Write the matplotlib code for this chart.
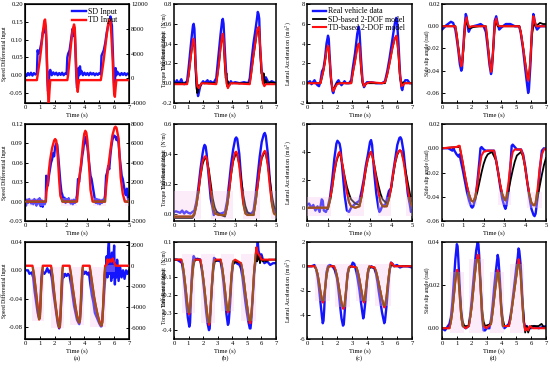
import numpy as np
import matplotlib
matplotlib.use("Agg")
import matplotlib.pyplot as plt
from matplotlib.patches import Rectangle

plt.rcParams['font.family'] = ['Liberation Serif', 'DejaVu Serif']
plt.rcParams['mathtext.fontset'] = 'stix'
plt.rcParams['axes.unicode_minus'] = False

BLUE = '#1414ff'
RED = '#ff1010'
BLACK = '#000000'
BROWN = '#94561f'
PINK = '#f6c2ea'

# ---------------- Row 1 (7 s) ----------------
r1c1_sd = [(0,0.005),(0.1,-0.002),(0.2,0.006),(0.3,0.0),(0.4,0.007),(0.5,-0.001),(0.6,0.006),(0.7,0.002),(0.8,0.004),
           (0.85,0.07),(0.9,0.06),(1.0,0.07),(1.1,0.09),(1.2,0.12),(1.3,0.135),(1.35,0.12),(1.4,0.13),(1.45,0.08),
           (1.5,-0.01),(1.55,-0.045),(1.6,-0.02),(1.65,0.01),(1.7,0.015),(1.8,0.0),(1.9,0.008),(2.0,0.002),(2.1,0.007),
           (2.2,0.0),(2.3,0.006),(2.4,0.001),(2.5,0.007),(2.6,0.0),(2.7,0.005),(2.8,0.003),(2.85,0.05),(2.9,0.06),
           (3.0,0.07),(3.1,0.10),(3.2,0.13),(3.25,0.11),(3.3,0.13),(3.35,0.12),(3.4,0.06),(3.45,0.0),(3.5,-0.035),
           (3.55,-0.02),(3.6,0.02),(3.65,0.0),(3.7,0.025),(3.75,0.005),(3.8,0.012),(3.9,0.0),(4.0,0.007),(4.1,0.001),
           (4.2,0.006),(4.3,0.0),(4.4,0.007),(4.5,0.002),(4.6,0.006),(4.7,0.0),(4.8,0.005),(4.9,0.001),(5.0,0.006),
           (5.1,0.002),(5.15,0.055),(5.2,0.06),(5.3,0.07),(5.4,0.09),(5.5,0.12),(5.6,0.14),(5.7,0.15),(5.75,0.165),
           (5.8,0.15),(5.85,0.14),(5.9,0.08),(5.95,0.02),(6.0,-0.035),(6.05,-0.02),(6.1,0.02),(6.15,0.0),(6.2,0.01),
           (6.3,0.005),(6.4,0.0),(6.5,0.006),(6.6,0.001),(6.7,0.006),(6.8,0.0),(6.9,0.005),(7.0,0.002)]
r1c1_td = [(0,-300),(0.8,-300),(0.85,500),(1.0,3000),(1.1,5000),(1.2,7500),(1.3,9300),(1.35,9500),(1.4,8500),
           (1.45,5500),(1.5,1000),(1.55,-2500),(1.6,-4000),(1.65,-2000),(1.7,-300),(2.85,-300),(2.9,500),(3.0,3000),
           (3.1,5500),(3.2,7800),(3.3,8700),(3.35,8200),(3.4,5000),(3.45,1500),(3.5,-1000),(3.55,-2200),(3.6,-1000),
           (3.65,-300),(5.1,-300),(5.15,400),(5.3,3000),(5.45,6000),(5.6,8800),(5.7,9500),(5.75,9300),(5.8,7500),
           (5.9,3000),(5.95,0),(6.0,-2500),(6.05,-3000),(6.1,-1500),(6.15,-300),(7,-300)]

r1c2_real = [(0,0.02),(0.1,0.0),(0.2,0.03),(0.3,0.0),(0.4,0.01),(0.5,0.04),(0.6,0.0),(0.7,-0.01),(0.8,0.01),(0.9,0.02),
             (1.0,0.15),(1.1,0.3),(1.2,0.45),(1.3,0.58),(1.35,0.6),(1.4,0.55),(1.45,0.35),(1.5,0.12),(1.55,0.0),
             (1.6,-0.08),(1.65,-0.13),(1.7,-0.1),(1.8,-0.03),(1.9,0.0),(2.0,0.02),(2.1,0.0),(2.3,0.03),(2.4,0.0),
             (2.5,0.02),(2.7,0.0),(2.9,0.05),(3.0,0.2),(3.1,0.35),(3.2,0.5),(3.3,0.63),(3.35,0.65),(3.4,0.6),(3.5,0.3),
             (3.6,0.05),(3.7,-0.03),(3.8,-0.01),(3.9,0.02),(4.0,0.0),(4.2,0.01),(4.5,0.0),(4.8,0.01),(5.1,0.0),
             (5.2,0.05),(5.3,0.2),(5.45,0.4),(5.6,0.55),(5.7,0.66),(5.75,0.72),(5.8,0.7),(5.85,0.65),(5.9,0.4),
             (6.0,0.15),(6.1,0.03),(6.2,0.0),(6.3,0.06),(6.4,0.03),(6.5,0.0),(6.7,0.02),(7,0.0)]
r1c2_sd = [(0,0.0),(0.5,0.0),(0.9,0.0),(1.0,0.07),(1.1,0.2),(1.2,0.32),(1.3,0.42),(1.35,0.44),(1.4,0.38),(1.5,0.1),
           (1.55,-0.05),(1.6,-0.1),(1.65,-0.08),(1.7,-0.02),(1.8,-0.03),(1.9,0.0),(2.9,0.0),(3.0,0.1),(3.1,0.22),
           (3.2,0.36),(3.3,0.47),(3.35,0.48),(3.4,0.42),(3.5,0.15),(3.55,0.05),(3.6,0.1),(3.65,-0.03),(3.7,0.02),
           (3.8,-0.02),(3.9,0.0),(5.2,0.0),(5.3,0.1),(5.45,0.27),(5.6,0.42),(5.7,0.52),(5.8,0.55),(5.85,0.52),
           (5.9,0.35),(6.0,0.1),(6.05,0.08),(6.1,0.02),(6.15,0.1),(6.2,0.0),(6.3,0.03),(6.4,-0.01),(6.6,0.01),(7,0.0)]
r1c2_td = [(0,-0.01),(0.9,-0.01),(1.0,0.08),(1.1,0.2),(1.2,0.33),(1.3,0.43),(1.35,0.45),(1.4,0.4),(1.5,0.15),
           (1.6,-0.03),(1.7,-0.05),(1.8,-0.02),(1.9,0.0),(2.9,-0.01),(3.0,0.1),(3.1,0.22),(3.2,0.37),(3.3,0.48),
           (3.35,0.5),(3.4,0.45),(3.5,0.2),(3.6,0.0),(3.7,-0.05),(3.8,-0.02),(3.9,0.0),(5.2,-0.01),(5.3,0.1),
           (5.45,0.28),(5.6,0.43),(5.7,0.53),(5.8,0.57),(5.85,0.55),(5.9,0.4),(6.0,0.15),(6.1,0.0),(6.2,-0.03),
           (6.3,-0.01),(7,-0.01)]

r1c3_real = [(0,0.0),(0.2,0.2),(0.3,-0.1),(0.5,0.3),(0.6,0.0),(0.7,-0.2),(0.8,-0.3),(0.9,0.2),(1.0,1.2),(1.1,1.5),
             (1.2,2.5),(1.3,4.0),(1.4,4.8),(1.45,4.5),(1.5,3.0),(1.6,0.5),(1.7,-0.8),(1.75,-1.0),(1.8,-0.7),(1.9,-0.2),
             (2.0,0.1),(2.1,0.3),(2.2,0.0),(2.3,-0.2),(2.5,0.2),(2.6,0.0),(2.8,0.0),(2.95,0.3),(3.05,1.5),(3.2,3.0),
             (3.35,5.0),(3.45,5.7),(3.5,5.2),(3.6,2.5),(3.7,0.3),(3.8,-0.4),(3.9,-0.1),(4.0,0.1),(4.3,0.1),(4.6,0.0),
             (5.0,0.0),(5.2,0.2),(5.35,1.2),(5.5,2.5),(5.7,4.5),(5.85,6.0),(5.95,6.6),(6.0,6.3),(6.1,4.0),(6.2,1.0),
             (6.3,-0.5),(6.35,-0.7),(6.45,0.0),(6.55,0.3),(6.7,0.3),(6.85,0.0),(7,0.0)]
r1c3_sd = [(0,0.0),(0.9,0.0),(1.0,0.6),(1.1,1.3),(1.2,2.2),(1.3,3.3),(1.4,3.8),(1.45,3.5),(1.5,2.3),(1.6,0.3),
           (1.7,-0.5),(1.75,-0.7),(1.85,-0.4),(2.0,0.0),(2.95,0.0),(3.05,1.0),(3.2,2.2),(3.35,3.7),(3.45,4.0),
           (3.5,3.6),(3.6,1.5),(3.7,0.0),(3.8,-0.3),(3.9,-0.1),(4.0,0.0),(5.2,0.0),(5.35,0.9),(5.5,2.0),(5.7,3.6),
           (5.85,4.5),(5.95,4.7),(6.0,4.5),(6.1,2.8),(6.2,0.6),(6.3,-0.2),(6.4,0.1),(6.5,0.0),(7,0.0)]
r1c3_td = [(0,0.0),(0.9,0.0),(1.0,0.7),(1.1,1.3),(1.2,2.2),(1.3,3.3),(1.4,3.8),(1.45,3.6),(1.5,2.5),(1.6,0.5),
           (1.7,-0.6),(1.75,-0.8),(1.85,-0.5),(2.0,-0.1),(2.2,0.0),(2.95,0.0),(3.05,1.0),(3.2,2.2),(3.35,3.6),
           (3.45,4.0),(3.5,3.7),(3.6,1.8),(3.7,0.2),(3.8,-0.3),(3.9,-0.1),(4.0,0.0),(4.2,0.1),(5.0,0.0),(5.2,0.1),
           (5.35,0.9),(5.5,2.0),(5.7,3.6),(5.85,4.5),(5.95,4.8),(6.0,4.6),(6.1,3.0),(6.2,0.8),(6.3,-0.3),(6.4,-0.2),
           (6.5,0.0),(7,0.0)]

r1c4_real = [(0,-0.003),(0.3,0.001),(0.6,0.004),(0.75,0.003),(0.9,-0.003),(1.0,-0.012),(1.1,-0.022),(1.2,-0.034),
             (1.3,-0.04),(1.35,-0.038),(1.4,-0.025),(1.5,-0.005),(1.6,0.011),(1.65,0.009),(1.75,-0.002),(1.8,-0.005),
             (1.9,-0.002),(2.1,0.0),(2.4,0.001),(2.6,0.002),(2.8,0.0),(2.95,-0.005),(3.05,-0.016),(3.2,-0.035),
             (3.3,-0.043),(3.35,-0.04),(3.45,-0.02),(3.55,0.005),(3.65,0.009),(3.75,0.002),(3.85,-0.003),(4.0,-0.001),
             (4.3,0.002),(4.6,0.002),(4.9,0.0),(5.2,0.0),(5.3,-0.006),(5.45,-0.02),(5.6,-0.038),(5.75,-0.055),
             (5.8,-0.06),(5.85,-0.057),(5.95,-0.035),(6.05,-0.005),(6.15,0.011),(6.2,0.008),(6.3,0.0),(6.4,-0.003),
             (6.6,0.0),(7,0.0)]
r1c4_sd = [(0,0.0),(0.9,0.0),(1.0,-0.008),(1.1,-0.019),(1.2,-0.029),(1.3,-0.035),(1.35,-0.034),(1.45,-0.02),
           (1.55,0.0),(1.65,0.005),(1.75,0.0),(1.85,-0.002),(2.0,-0.001),(2.5,0.0),(2.95,0.0),(3.05,-0.012),
           (3.2,-0.031),(3.3,-0.04),(3.35,-0.038),(3.45,-0.02),(3.55,0.0),(3.65,0.004),(3.75,0.0),(3.9,0.0),
           (5.2,0.0),(5.3,-0.005),(5.45,-0.018),(5.6,-0.032),(5.75,-0.046),(5.8,-0.048),(5.85,-0.046),(5.95,-0.03),
           (6.05,-0.008),(6.15,0.0),(6.25,0.002),(6.4,0.001),(6.6,0.003),(6.8,0.002),(7,0.002)]
r1c4_td = [(0,0.0),(0.9,0.0),(1.0,-0.009),(1.1,-0.02),(1.2,-0.03),(1.3,-0.036),(1.35,-0.034),(1.45,-0.018),
           (1.55,0.003),(1.65,0.008),(1.75,0.002),(1.85,-0.001),(2.0,0.0),(2.95,0.0),(3.05,-0.012),(3.2,-0.032),
           (3.3,-0.041),(3.35,-0.039),(3.45,-0.02),(3.55,0.003),(3.65,0.007),(3.75,0.001),(3.9,0.0),(5.2,0.0),
           (5.3,-0.005),(5.45,-0.018),(5.6,-0.033),(5.75,-0.047),(5.8,-0.049),(5.85,-0.047),(5.95,-0.03),
           (6.05,-0.005),(6.15,0.009),(6.25,0.004),(6.35,0.0),(7,0.0)]

# ---------------- Row 2 (5 s) ----------------
r2c1_sd = [(0,0.0),(0.05,-0.006),(0.1,0.003),(0.15,-0.002),(0.2,0.004),(0.3,-0.003),(0.35,0.002),(0.4,-0.004),
           (0.45,0.004),(0.5,0.0),(0.55,-0.006),(0.6,0.003),(0.65,-0.003),(0.7,0.005),(0.75,-0.007),(0.8,0.002),
           (0.85,-0.008),(0.9,0.0),(0.95,-0.004),(1.0,0.002),(1.02,0.04),(1.05,0.035),(1.1,0.025),(1.15,0.04),
           (1.2,0.05),(1.25,0.06),(1.3,0.065),(1.35,0.075),(1.4,0.07),(1.45,0.085),(1.5,0.09),(1.55,0.088),(1.6,0.07),
           (1.65,0.05),(1.7,0.03),(1.75,0.015),(1.8,0.01),(1.85,0.0),(1.9,0.006),(1.95,-0.002),(2.0,0.004),(2.05,0.0),
           (2.1,0.005),(2.2,-0.003),(2.25,0.002),(2.3,-0.004),(2.35,0.003),(2.4,-0.002),(2.45,0.002),(2.5,0.01),
           (2.55,0.035),(2.6,0.03),(2.65,0.045),(2.7,0.055),(2.75,0.07),(2.8,0.08),(2.85,0.095),(2.9,0.1),(2.95,0.09),
           (3.0,0.085),(3.05,0.07),(3.1,0.055),(3.15,0.04),(3.2,0.035),(3.25,0.025),(3.3,0.015),(3.35,0.005),
           (3.4,-0.002),(3.45,0.004),(3.5,-0.003),(3.55,0.003),(3.6,-0.004),(3.65,0.002),(3.7,-0.002),(3.75,0.003),
           (3.8,0.0),(3.85,0.01),(3.9,0.04),(3.95,0.045),(4.0,0.055),(4.05,0.05),(4.1,0.07),(4.15,0.085),(4.2,0.095),
           (4.25,0.1),(4.3,0.102),(4.35,0.1),(4.4,0.095),(4.45,0.1),(4.5,0.09),(4.55,0.07),(4.6,0.055),(4.65,0.04),
           (4.7,0.035),(4.75,0.025),(4.8,0.015),(4.85,0.01),(4.9,0.02),(4.95,0.005),(5.0,0.0)]
r2c1_td = [(0,0),(1.0,0),(1.03,1000),(1.1,2000),(1.15,3200),(1.2,4200),(1.3,5500),(1.4,6300),(1.45,6450),(1.5,6300),
           (1.55,5500),(1.6,3800),(1.65,2000),(1.7,600),(1.8,0),(2.5,0),(2.55,1200),(2.6,2200),(2.7,4000),(2.8,6200),
           (2.85,7000),(2.9,7300),(2.95,7100),(3.0,6300),(3.05,4800),(3.1,3000),(3.15,1200),(3.25,0),(3.85,0),
           (3.9,1500),(4.0,3500),(4.1,5200),(4.2,6800),(4.3,7600),(4.35,7730),(4.4,7600),(4.5,6500),(4.55,4500),
           (4.6,2500),(4.7,800),(4.8,0),(5.0,0)]

r2c2_real = [(0,0.01),(0.1,0.015),(0.2,0.01),(0.3,0.005),(0.4,0.02),(0.5,0.0),(0.6,0.015),(0.7,0.005),(0.8,0.0),
             (0.9,0.01),(1.0,0.02),(1.1,0.08),(1.2,0.18),(1.3,0.3),(1.4,0.4),(1.45,0.44),(1.5,0.46),(1.55,0.45),
             (1.6,0.4),(1.7,0.25),(1.8,0.1),(1.9,0.03),(1.95,-0.01),(2.0,0.0),(2.1,0.01),(2.2,0.0),(2.3,0.0),
             (2.5,0.01),(2.6,0.08),(2.7,0.2),(2.8,0.33),(2.9,0.43),(3.0,0.5),(3.05,0.51),(3.1,0.5),(3.2,0.4),
             (3.3,0.22),(3.4,0.08),(3.5,0.02),(3.6,0.0),(3.8,0.0),(3.9,0.02),(4.0,0.12),(4.1,0.25),(4.2,0.38),
             (4.3,0.48),(4.4,0.53),(4.45,0.54),(4.5,0.52),(4.6,0.4),(4.7,0.22),(4.8,0.08),(4.9,0.02),(5.0,0.0)]
r2c2_sd = [(0,-0.03),(0.9,-0.03),(1.0,-0.01),(1.1,0.05),(1.2,0.14),(1.3,0.25),(1.4,0.33),(1.5,0.37),(1.55,0.375),
           (1.6,0.36),(1.7,0.3),(1.8,0.2),(1.9,0.1),(2.0,0.04),(2.1,0.01),(2.3,-0.01),(2.5,-0.02),(2.6,0.04),
           (2.7,0.14),(2.8,0.26),(2.9,0.35),(3.0,0.39),(3.05,0.4),(3.1,0.39),(3.2,0.33),(3.3,0.22),(3.4,0.12),
           (3.5,0.05),(3.6,0.01),(3.8,-0.01),(3.9,-0.01),(4.0,0.07),(4.1,0.18),(4.2,0.29),(4.3,0.37),(4.4,0.4),
           (4.45,0.41),(4.5,0.4),(4.6,0.33),(4.7,0.22),(4.8,0.12),(4.9,0.05),(5.0,0.02)]
r2c2_td = [(0,-0.02),(0.9,-0.02),(1.0,0.0),(1.1,0.06),(1.2,0.15),(1.3,0.26),(1.4,0.35),(1.5,0.38),(1.55,0.385),
           (1.6,0.37),(1.7,0.28),(1.8,0.15),(1.9,0.05),(2.0,0.0),(2.2,-0.01),(2.5,-0.01),(2.6,0.05),(2.7,0.15),
           (2.8,0.27),(2.9,0.36),(3.0,0.41),(3.05,0.415),(3.1,0.4),(3.2,0.32),(3.3,0.18),(3.4,0.06),(3.5,0.0),
           (3.6,-0.01),(3.9,-0.01),(4.0,0.08),(4.1,0.19),(4.2,0.3),(4.3,0.38),(4.4,0.41),(4.45,0.42),(4.5,0.41),
           (4.6,0.32),(4.7,0.18),(4.8,0.06),(4.9,0.0),(5.0,-0.01)]

r2c3_real = [(0,0.2),(0.1,0.3),(0.2,0.0),(0.3,0.2),(0.4,-0.2),(0.5,0.1),(0.6,-0.3),(0.7,0.6),(0.75,0.5),(0.8,-0.2),
             (0.9,-0.3),(1.0,0.1),(1.1,0.8),(1.2,2.0),(1.3,3.5),(1.4,4.6),(1.45,4.8),(1.5,4.7),(1.55,4.6),(1.6,4.2),
             (1.7,2.5),(1.8,0.8),(1.9,-0.2),(2.0,-0.3),(2.1,0.0),(2.3,0.3),(2.5,0.5),(2.6,1.2),(2.7,2.0),(2.8,3.0),
             (2.9,3.8),(3.0,4.7),(3.05,4.85),(3.1,4.5),(3.15,3.5),(3.2,2.5),(3.3,1.0),(3.4,0.0),(3.45,-0.3),
             (3.5,-0.2),(3.6,0.2),(3.7,0.1),(3.8,0.6),(3.9,1.2),(4.0,1.4),(4.1,2.5),(4.2,3.5),(4.3,4.5),(4.4,5.0),
             (4.45,5.05),(4.5,4.9),(4.6,4.0),(4.7,2.5),(4.8,1.0),(4.9,0.2),(4.95,-0.3),(5.0,-0.2)]
r2c3_sd = [(0,0.0),(0.9,0.0),(1.0,-0.1),(1.1,0.5),(1.2,1.4),(1.3,2.5),(1.4,3.3),(1.5,3.8),(1.55,3.9),(1.6,3.7),
           (1.7,3.0),(1.8,2.2),(1.9,1.5),(2.0,1.0),(2.1,0.6),(2.3,0.3),(2.5,0.2),(2.6,0.8),(2.7,1.7),(2.8,2.7),
           (2.9,3.5),(3.0,3.9),(3.05,4.0),(3.1,3.8),(3.2,3.1),(3.3,2.3),(3.4,1.6),(3.5,1.0),(3.6,0.6),(3.8,0.3),
           (3.9,0.6),(4.0,1.3),(4.1,2.3),(4.2,3.2),(4.3,3.8),(4.4,4.1),(4.45,4.1),(4.5,4.0),(4.6,3.4),(4.7,2.6),
           (4.8,1.8),(4.9,1.0),(5.0,0.4)]
r2c3_td = [(0,0.0),(0.9,0.0),(1.0,0.0),(1.1,0.6),(1.2,1.5),(1.3,2.6),(1.4,3.4),(1.5,3.9),(1.55,4.0),(1.6,3.8),
           (1.7,3.0),(1.8,2.0),(1.9,1.1),(2.0,0.4),(2.1,0.1),(2.3,0.0),(2.5,0.1),(2.6,0.8),(2.7,1.8),(2.8,2.8),
           (2.9,3.5),(3.0,3.9),(3.05,4.0),(3.1,3.8),(3.2,3.0),(3.3,2.0),(3.4,1.1),(3.5,0.4),(3.6,0.1),(3.8,0.1),
           (3.9,0.6),(4.0,1.4),(4.1,2.4),(4.2,3.3),(4.3,3.9),(4.4,4.1),(4.45,4.1),(4.5,4.0),(4.6,3.3),(4.7,2.3),
           (4.8,1.3),(4.9,0.5),(5.0,0.1)]

r2c4_real = [(0,0.0),(0.3,0.0),(0.4,-0.001),(0.5,-0.002),(0.55,0.0),(0.6,-0.002),(0.7,-0.005),(0.8,-0.007),
             (0.85,-0.005),(0.9,-0.01),(1.0,-0.018),(1.1,-0.027),(1.2,-0.036),(1.3,-0.043),(1.4,-0.048),(1.45,-0.049),
             (1.5,-0.048),(1.6,-0.042),(1.7,-0.028),(1.8,-0.01),(1.85,0.0),(1.9,0.001),(2.0,-0.001),(2.1,-0.002),
             (2.5,-0.002),(2.6,-0.01),(2.7,-0.02),(2.8,-0.032),(2.9,-0.042),(3.0,-0.048),(3.05,-0.05),(3.1,-0.047),
             (3.2,-0.035),(3.3,-0.012),(3.35,0.002),(3.4,0.003),(3.5,0.001),(3.6,-0.001),(3.8,-0.001),(3.9,-0.005),
             (4.0,-0.015),(4.1,-0.028),(4.2,-0.04),(4.3,-0.05),(4.4,-0.055),(4.45,-0.056),(4.5,-0.054),(4.6,-0.04),
             (4.7,-0.018),(4.8,-0.002),(4.9,0.0),(5.0,-0.001)]
r2c4_sd = [(0,0.0),(0.7,0.001),(0.85,0.001),(0.9,-0.003),(1.0,-0.012),(1.1,-0.022),(1.2,-0.031),(1.3,-0.038),
           (1.4,-0.043),(1.5,-0.044),(1.6,-0.042),(1.7,-0.036),(1.8,-0.028),(1.9,-0.02),(2.0,-0.013),(2.1,-0.008),
           (2.2,-0.005),(2.4,-0.003),(2.6,-0.01),(2.7,-0.02),(2.8,-0.03),(2.9,-0.038),(3.0,-0.042),(3.05,-0.043),
           (3.1,-0.041),(3.2,-0.035),(3.3,-0.026),(3.4,-0.018),(3.5,-0.011),(3.6,-0.006),(3.8,-0.003),(3.9,-0.007),
           (4.0,-0.016),(4.1,-0.028),(4.2,-0.038),(4.3,-0.045),(4.4,-0.047),(4.45,-0.047),(4.5,-0.046),(4.6,-0.04),
           (4.7,-0.031),(4.8,-0.022),(4.9,-0.014),(5.0,-0.008)]
r2c4_td = [(0,0.0),(0.7,0.001),(0.8,0.002),(0.85,0.002),(0.9,-0.003),(1.0,-0.012),(1.1,-0.022),(1.2,-0.031),
           (1.3,-0.038),(1.4,-0.043),(1.5,-0.044),(1.6,-0.04),(1.7,-0.03),(1.8,-0.016),(1.9,-0.006),(2.0,-0.003),
           (2.2,-0.002),(2.5,-0.002),(2.6,-0.01),(2.7,-0.02),(2.8,-0.03),(2.9,-0.038),(3.0,-0.042),(3.05,-0.043),
           (3.1,-0.04),(3.2,-0.028),(3.3,-0.012),(3.4,-0.003),(3.5,-0.001),(3.8,-0.001),(3.9,-0.006),(4.0,-0.016),
           (4.1,-0.028),(4.2,-0.038),(4.3,-0.045),(4.4,-0.047),(4.45,-0.047),(4.5,-0.045),(4.6,-0.033),(4.7,-0.016),
           (4.8,-0.005),(4.9,-0.001),(5.0,0.0)]

# ---------------- Row 3 (7 s) ----------------
r3c1_sd = [(0,0.0),(0.2,0.0),(0.3,-0.005),(0.45,-0.003),(0.55,-0.01),(0.65,-0.03),(0.75,-0.045),(0.85,-0.06),
           (0.95,-0.068),(1.0,-0.065),(1.05,-0.04),(1.1,-0.01),(1.15,0.0),(1.3,-0.005),(1.4,-0.002),(1.5,0.003),
           (1.6,-0.003),(1.7,0.0),(1.8,-0.01),(1.9,-0.03),(2.0,-0.045),(2.1,-0.06),(2.2,-0.075),(2.3,-0.082),
           (2.35,-0.078),(2.45,-0.04),(2.5,-0.02),(2.55,-0.005),(2.6,-0.01),(2.7,-0.005),(2.8,-0.008),(2.9,-0.005),
           (3.0,-0.008),(3.1,-0.02),(3.2,-0.035),(3.3,-0.05),(3.4,-0.06),(3.5,-0.07),(3.6,-0.074),(3.65,-0.076),
           (3.7,-0.07),(3.8,-0.04),(3.85,-0.01),(3.9,0.0),(4.0,-0.005),(4.1,-0.002),(4.2,-0.006),(4.3,-0.003),
           (4.4,-0.02),(4.5,-0.035),(4.6,-0.045),(4.7,-0.06),(4.8,-0.065),(4.9,-0.07),(5.0,-0.075),(5.1,-0.079),
           (5.15,-0.079),(5.2,-0.07),(5.3,-0.04),(5.4,-0.01),(5.45,0.005),(5.5,0.02),(5.55,-0.01),(5.6,0.03),
           (5.65,0.04),(5.7,-0.005),(5.75,0.02),(5.8,-0.015),(5.85,0.025),(5.9,-0.01),(5.95,0.015),(6.0,0.035),
           (6.05,-0.02),(6.1,0.01),(6.15,-0.01),(6.2,0.015),(6.3,-0.015),(6.4,0.005),(6.5,-0.01),(6.6,0.0),
           (6.7,-0.012),(6.8,0.0),(6.9,-0.005),(7.0,0.0)]
r3c1_td = [(0,0),(0.5,0),(0.6,-800),(0.7,-2000),(0.8,-3300),(0.9,-4600),(0.95,-5200),(1.0,-5000),(1.05,-3500),
           (1.1,-1800),(1.2,0),(1.75,0),(1.85,-1000),(1.95,-2400),(2.05,-3700),(2.15,-4800),(2.25,-5700),(2.3,-6000),
           (2.35,-5800),(2.4,-4500),(2.45,-2500),(2.5,-800),(2.55,0),(3.0,0),(3.1,-900),(3.2,-2000),(3.3,-3000),
           (3.4,-4000),(3.5,-4800),(3.6,-5400),(3.65,-5500),(3.7,-5200),(3.75,-3800),(3.8,-2000),(3.85,-600),
           (3.9,0),(4.35,0),(4.45,-1000),(4.55,-2000),(4.65,-3000),(4.75,-3800),(4.85,-4500),(4.95,-5100),
           (5.05,-5600),(5.15,-5800),(5.2,-5500),(5.25,-4200),(5.3,-2500),(5.35,-900),(5.4,0),(5.5,100),(5.55,600),
           (5.6,300),(5.7,600),(5.8,400),(5.9,700),(6.0,300),(6.1,0),(7.0,0)]

r3c2_real = [(0,0.0),(0.2,0.0),(0.4,-0.01),(0.55,-0.02),(0.65,-0.08),(0.75,-0.16),(0.85,-0.25),(0.95,-0.33),
             (1.05,-0.38),(1.1,-0.36),(1.15,-0.25),(1.2,-0.12),(1.3,-0.01),(1.35,0.02),(1.45,0.0),(1.6,0.005),
             (1.8,0.0),(1.9,-0.05),(2.0,-0.12),(2.1,-0.2),(2.2,-0.29),(2.3,-0.36),(2.4,-0.4),(2.45,-0.39),(2.5,-0.3),
             (2.6,-0.15),(2.7,-0.03),(2.75,0.01),(2.85,0.0),(3.0,-0.005),(3.2,-0.01),(3.3,-0.06),(3.4,-0.13),
             (3.5,-0.22),(3.6,-0.31),(3.7,-0.37),(3.75,-0.36),(3.85,-0.25),(3.95,-0.1),(4.05,-0.02),(4.15,-0.01),
             (4.3,-0.02),(4.5,-0.03),(4.6,-0.05),(4.7,-0.1),(4.8,-0.17),(4.9,-0.24),(5.0,-0.3),(5.1,-0.35),
             (5.2,-0.39),(5.25,-0.39),(5.3,-0.35),(5.4,-0.22),(5.5,-0.08),(5.6,0.0),(5.7,0.06),(5.75,0.1),(5.8,0.05),
             (5.9,0.02),(6.0,0.03),(6.1,0.0),(6.2,-0.02),(6.4,-0.01),(6.6,-0.03),(6.8,-0.02),(7.0,-0.02)]
r3c2_sd = [(0,0.0),(0.5,0.0),(0.6,-0.03),(0.7,-0.09),(0.8,-0.16),(0.9,-0.24),(1.0,-0.29),(1.05,-0.3),(1.1,-0.28),
           (1.2,-0.17),(1.3,-0.06),(1.4,-0.01),(1.5,0.0),(1.8,0.0),(1.9,-0.04),(2.0,-0.1),(2.1,-0.17),(2.2,-0.25),
           (2.3,-0.32),(2.4,-0.36),(2.45,-0.35),(2.5,-0.3),(2.6,-0.17),(2.7,-0.06),(2.8,-0.01),(3.2,0.0),(3.3,-0.04),
           (3.4,-0.1),(3.5,-0.17),(3.6,-0.25),(3.7,-0.29),(3.75,-0.29),(3.85,-0.22),(3.95,-0.1),(4.05,-0.03),
           (4.2,-0.01),(4.6,-0.02),(4.7,-0.06),(4.8,-0.12),(4.9,-0.19),(5.0,-0.25),(5.1,-0.31),(5.2,-0.35),
           (5.25,-0.35),(5.3,-0.33),(5.4,-0.22),(5.5,-0.08),(5.6,0.03),(5.65,0.06),(5.7,-0.01),(5.75,0.04),(5.8,0.0),
           (5.85,0.03),(5.9,-0.02),(6.0,0.01),(6.1,-0.01),(6.2,0.0),(6.3,-0.01),(6.5,0.0),(7.0,0.0)]
r3c2_td = [(0,0.0),(0.5,0.0),(0.6,-0.03),(0.7,-0.09),(0.8,-0.16),(0.9,-0.24),(1.0,-0.3),(1.05,-0.31),(1.1,-0.28),
           (1.2,-0.15),(1.3,-0.03),(1.4,0.0),(1.8,0.0),(1.9,-0.04),(2.0,-0.1),(2.1,-0.17),(2.2,-0.25),(2.3,-0.32),
           (2.4,-0.37),(2.45,-0.36),(2.5,-0.28),(2.6,-0.14),(2.7,-0.03),(2.8,0.0),(3.2,0.0),(3.3,-0.04),(3.4,-0.1),
           (3.5,-0.17),(3.6,-0.25),(3.7,-0.3),(3.75,-0.29),(3.85,-0.2),(3.95,-0.08),(4.05,-0.01),(4.2,0.0),
           (4.6,-0.02),(4.7,-0.06),(4.8,-0.12),(4.9,-0.19),(5.0,-0.25),(5.1,-0.31),(5.2,-0.36),(5.25,-0.36),
           (5.3,-0.32),(5.4,-0.2),(5.5,-0.06),(5.6,0.02),(5.65,0.07),(5.7,0.05),(5.8,0.03),(5.9,0.02),(6.0,0.0),
           (7.0,0.0)]

r3c3_real = [(0,0.0),(0.3,0.0),(0.5,0.1),(0.6,-0.2),(0.7,-0.8),(0.8,-1.8),(0.9,-3.0),(1.0,-4.2),(1.05,-4.7),
             (1.1,-4.5),(1.15,-3.5),(1.2,-2.0),(1.3,-0.5),(1.4,0.0),(1.5,0.1),(1.7,0.0),(1.85,-0.3),(2.0,-1.0),
             (2.1,-2.0),(2.2,-3.2),(2.3,-4.3),(2.4,-4.9),(2.45,-4.8),(2.5,-4.0),(2.6,-2.2),(2.7,-0.6),(2.8,-0.1),
             (2.95,0.0),(3.05,0.3),(3.15,0.2),(3.3,-0.5),(3.4,-1.2),(3.5,-2.0),(3.6,-3.0),(3.7,-3.9),(3.75,-4.3),
             (3.8,-4.0),(3.9,-2.8),(4.0,-1.2),(4.1,-0.2),(4.3,0.0),(4.5,-0.2),(4.6,-0.6),(4.7,-1.3),(4.8,-2.2),
             (4.9,-3.0),(5.0,-3.8),(5.1,-4.4),(5.15,-4.7),(5.2,-4.5),(5.3,-3.3),(5.4,-1.8),(5.5,-0.4),(5.6,0.3),
             (5.7,0.2),(5.8,0.0),(6.0,0.1),(6.2,-0.1),(6.4,0.0),(6.7,0.0),(7.0,-0.1)]
r3c3_sd = [(0,0.0),(0.5,0.0),(0.6,-0.2),(0.7,-0.6),(0.8,-1.3),(0.9,-2.1),(1.0,-2.7),(1.05,-2.9),(1.1,-2.8),
           (1.2,-2.0),(1.3,-0.9),(1.4,-0.2),(1.5,0.0),(1.8,0.0),(1.9,-0.3),(2.0,-0.8),(2.1,-1.5),(2.2,-2.3),(2.3,-3.0),
           (2.4,-3.4),(2.45,-3.4),(2.5,-3.2),(2.6,-2.2),(2.7,-0.9),(2.8,-0.2),(2.9,0.0),(3.3,-0.1),(3.4,-0.5),
           (3.5,-1.1),(3.6,-1.8),(3.7,-2.5),(3.75,-2.8),(3.8,-2.9),(3.85,-2.7),(3.95,-1.8),(4.05,-0.7),(4.15,-0.1),
           (4.5,-0.1),(4.6,-0.4),(4.7,-0.9),(4.8,-1.5),(4.9,-2.1),(5.0,-2.7),(5.1,-3.1),(5.15,-3.3),(5.2,-3.2),
           (5.3,-2.6),(5.4,-1.4),(5.5,-0.4),(5.6,0.2),(5.7,0.1),(5.8,0.0),(7.0,0.0)]
r3c3_td = [(0,0.0),(0.5,0.0),(0.6,-0.2),(0.7,-0.6),(0.8,-1.3),(0.9,-2.1),(1.0,-2.8),(1.05,-3.0),(1.1,-2.9),
           (1.2,-1.9),(1.3,-0.7),(1.4,-0.1),(1.5,0.0),(1.8,0.0),(1.9,-0.3),(2.0,-0.8),(2.1,-1.5),(2.2,-2.3),(2.3,-3.0),
           (2.4,-3.5),(2.45,-3.5),(2.5,-3.2),(2.6,-2.0),(2.7,-0.7),(2.8,-0.1),(2.9,0.0),(3.3,-0.1),(3.4,-0.5),
           (3.5,-1.1),(3.6,-1.8),(3.7,-2.5),(3.75,-2.9),(3.8,-3.0),(3.85,-2.7),(3.95,-1.6),(4.05,-0.5),(4.15,0.0),
           (4.5,-0.1),(4.6,-0.4),(4.7,-0.9),(4.8,-1.5),(4.9,-2.1),(5.0,-2.7),(5.1,-3.2),(5.15,-3.4),(5.2,-3.3),
           (5.3,-2.5),(5.4,-1.3),(5.5,-0.3),(5.6,0.3),(5.7,0.2),(5.8,0.0),(7.0,0.0)]

r3c4_real = [(0,0.0),(0.2,-0.001),(0.4,0.001),(0.5,0.002),(0.6,0.005),(0.7,0.012),(0.8,0.022),(0.9,0.032),
             (1.0,0.039),(1.05,0.038),(1.1,0.032),(1.2,0.018),(1.3,0.006),(1.4,0.001),(1.6,0.0),(1.8,0.001),
             (1.9,0.006),(2.0,0.013),(2.1,0.021),(2.2,0.029),(2.3,0.036),(2.4,0.04),(2.45,0.039),(2.5,0.034),
             (2.6,0.02),(2.7,0.005),(2.8,-0.001),(2.9,-0.001),(3.0,0.0),(3.2,0.0),(3.3,0.004),(3.4,0.01),(3.5,0.018),
             (3.6,0.025),(3.7,0.031),(3.75,0.034),(3.8,0.032),(3.9,0.022),(4.0,0.008),(4.1,0.001),(4.2,0.0),
             (4.5,0.002),(4.6,0.005),(4.7,0.01),(4.8,0.016),(4.9,0.022),(5.0,0.028),(5.1,0.033),(5.15,0.037),
             (5.2,0.036),(5.3,0.029),(5.4,0.015),(5.5,0.003),(5.6,0.0),(5.7,0.001),(5.8,0.0),(6.0,0.0),(6.2,0.001),
             (6.5,0.0),(7.0,0.001)]
r3c4_sd = [(0,0.0),(0.5,0.0),(0.6,0.003),(0.7,0.008),(0.8,0.015),(0.9,0.022),(1.0,0.026),(1.05,0.027),(1.1,0.025),
           (1.2,0.017),(1.3,0.008),(1.4,0.003),(1.5,0.001),(1.8,0.001),(1.9,0.005),(2.0,0.01),(2.1,0.017),(2.2,0.024),
           (2.3,0.03),(2.4,0.033),(2.45,0.033),(2.5,0.031),(2.6,0.021),(2.7,0.009),(2.8,0.003),(2.9,0.001),
           (3.3,0.002),(3.4,0.007),(3.5,0.013),(3.6,0.019),(3.7,0.024),(3.75,0.026),(3.8,0.026),(3.9,0.02),(4.0,0.01),
           (4.1,0.004),(4.2,0.001),(4.5,0.001),(4.6,0.004),(4.7,0.009),(4.8,0.014),(4.9,0.019),(5.0,0.024),
           (5.1,0.029),(5.15,0.031),(5.2,0.031),(5.3,0.026),(5.4,0.015),(5.5,0.005),(5.6,-0.002),(5.7,0.001),
           (5.8,-0.002),(5.9,0.0),(6.0,0.001),(6.5,0.001),(6.7,0.002),(6.9,0.0),(7.0,0.001)]
r3c4_td = [(0,0.0),(0.5,0.0),(0.6,0.003),(0.7,0.008),(0.8,0.015),(0.9,0.022),(1.0,0.027),(1.05,0.027),(1.1,0.024),
           (1.2,0.014),(1.3,0.005),(1.4,0.001),(1.6,0.0),(1.8,0.001),(1.9,0.005),(2.0,0.01),(2.1,0.017),(2.2,0.024),
           (2.3,0.03),(2.4,0.034),(2.45,0.034),(2.5,0.03),(2.6,0.018),(2.7,0.006),(2.8,0.001),(3.0,0.0),(3.3,0.002),
           (3.4,0.007),(3.5,0.013),(3.6,0.019),(3.7,0.024),(3.75,0.027),(3.8,0.026),(3.9,0.018),(4.0,0.007),
           (4.1,0.001),(4.5,0.001),(4.6,0.004),(4.7,0.009),(4.8,0.014),(4.9,0.019),(5.0,0.024),(5.1,0.029),
           (5.15,0.032),(5.2,0.031),(5.3,0.024),(5.4,0.012),(5.5,0.003),(5.6,-0.001),(5.7,0.0),(5.8,-0.001),
           (5.9,0.001),(6.1,0.0),(7.0,0.0)]

# light pink highlight boxes (t0, t1, y0, y1) seen in rows 2 and 3
pink_r2c1 = [(0.0,1.0,-0.007,0.006),(1.75,2.52,-0.007,0.006),(3.25,3.88,-0.007,0.006),(4.8,5.0,-0.007,0.006)]
pink_r2c2 = [(0.0,1.3,-0.035,0.15),(1.8,2.9,-0.035,0.15),(3.4,4.2,-0.035,0.15),(4.75,5.0,-0.035,0.15)]
pink_r2c3 = [(0.0,1.15,-0.6,0.8),(1.9,2.7,-0.6,0.8),(3.4,4.0,-0.6,0.8),(4.7,5.0,-0.6,0.8)]
pink_r2c4 = [(1.2,1.7,-0.047,-0.036),(2.7,3.3,-0.047,-0.036),(4.1,4.8,-0.049,-0.036)]
pink_r3c1 = [(0.45,1.25,-0.072,0.004),(1.75,2.6,-0.082,0.004),(3.0,3.95,-0.077,0.004),(4.35,5.45,-0.08,0.004),
             (5.45,6.05,-0.002,0.007)]
pink_r3c2 = [(0.55,1.45,-0.3,0.03),(1.85,2.8,-0.36,0.03),(3.25,4.1,-0.29,0.03),(4.6,5.6,-0.35,0.03)]
pink_r3c3 = [(0.55,1.5,-2.9,0.15),(1.85,2.85,-3.4,0.15),(3.25,4.2,-2.9,0.15),(4.5,5.6,-3.3,0.15)]
pink_r3c4 = [(0.55,1.45,-0.002,0.026),(1.85,2.8,-0.002,0.032),(3.25,4.15,-0.002,0.026),(4.55,5.55,-0.002,0.03)]

# ---------------- helpers ----------------
def P(pairs):
    a = np.array(pairs, dtype=float)
    return a[:, 0], a[:, 1]

W, H = 550, 369
fig = plt.figure(figsize=(5.5, 3.69), dpi=100)
cols = [(25, 104), (174, 102), (307, 105), (442, 104)]
rows = [(4, 103), (124, 221), (242, 339)]
FS_TICK = 4.8
FS_X = 4.7
FS_Y = 4.1
FS_LEG = 5.7

def make_ax(r, c):
    l, w = cols[c]
    t, b = rows[r]
    ax = fig.add_axes([l / W, 1 - b / H, w / W, (b - t) / H])
    for s in ax.spines.values():
        s.set_linewidth(1.1)
    ax.tick_params(direction='in', length=2, width=0.7, labelsize=FS_TICK, pad=1.5)
    return ax

def style_x(ax, tmax, r, letter):
    ax.set_xlim(0, tmax)
    ax.set_xticks(np.arange(0, tmax + 1, 1))
    lab = 'Time (s)' if r < 2 else 'Time (s)\n' + letter
    ax.set_xlabel(lab, fontsize=FS_X, labelpad=1.2, linespacing=1.45)

def add_pink(ax, spans, line_ax, td):
    tt, vv = td
    for (t0, t1, y0, y1) in spans:
        ax.add_patch(Rectangle((t0, y0), t1 - t0, y1 - y0, facecolor=PINK, edgecolor='none',
                               alpha=0.32, zorder=3))
        clip = Rectangle((t0, y0), t1 - t0, y1 - y0, transform=ax.transData)
        ln, = line_ax.plot(tt, vv, color=BROWN, lw=1.4, zorder=4)
        ln.set_clip_path(clip)

letters = ['(a)', '(b)', '(c)', '(d)']

# ---------- Column 1 ----------
c1 = [
    dict(sd=r1c1_sd, td=r1c1_td, tmax=7, ylim=(-0.078, 0.20), yt=[-0.05, 0, 0.05, 0.10, 0.15, 0.20],
         fmt='%.2f', ylim2=(-4000, 12000), yt2=[-4000, 0, 4000, 8000, 12000], pink=None),
    dict(sd=r2c1_sd, td=r2c1_td, tmax=5, ylim=(-0.03, 0.12), yt=[-0.03, 0, 0.03, 0.06, 0.09, 0.12],
         fmt='%.2f', ylim2=(-2000, 8000), yt2=[-2000, 0, 2000, 4000, 6000, 8000], pink=pink_r2c1),
    dict(sd=r3c1_sd, td=r3c1_td, tmax=7, ylim=(-0.097, 0.04), yt=[-0.08, -0.04, 0, 0.04],
         fmt='%.2f', ylim2=(-7100, 2300), yt2=[-6000, -4000, -2000, 0, 2000], pink=pink_r3c1),
]
for r, d in enumerate(c1):
    ax = make_ax(r, 0)
    ax2 = ax.twinx()
    ax2.tick_params(direction='in', length=2, width=0.7, labelsize=FS_TICK, pad=1.5)
    h1, = ax.plot(*P(d['sd']), color=BLUE, lw=1.7, zorder=2, label='SD Input')
    h2, = ax2.plot(*P(d['td']), color=RED, lw=1.7, zorder=2, label='TD Input')
    ax.set_ylim(*d['ylim'])
    ax.set_yticks(d['yt'])
    ax.set_yticklabels([d['fmt'] % v for v in d['yt']])
    ax2.set_ylim(*d['ylim2'])
    ax2.set_yticks(d['yt2'])
    ax2.set_yticklabels(['%d' % v for v in d['yt2']])
    style_x(ax, d['tmax'], r, letters[0])
    ax.set_ylabel('Speed Differential Input', fontsize=FS_Y)
    ax.yaxis.set_label_coords(-0.175, 0.5)
    ax2.set_ylabel('Torque Differential Input  (N·m)', fontsize=FS_Y)
    ax2.yaxis.set_label_coords(1.31, 0.53)
    if d['pink'] is not None:
        add_pink(ax, d['pink'], ax2, P(d['td']))
    if r == 0:
        ax2.legend([h1, h2], ['SD Input', 'TD Input'], loc='upper left', bbox_to_anchor=(0.40, 1.02),
                   frameon=False, fontsize=FS_LEG, handlelength=1.7, handletextpad=0.3, labelspacing=0.1,
                   borderpad=0.2)

# ---------- Columns 2-4 ----------
panels = {
    (0, 1): (r1c2_real, r1c2_sd, r1c2_td, 7, (-0.2, 0.8), [-0.2, 0.0, 0.2, 0.4, 0.6, 0.8], '%.1f', None),
    (1, 1): (r2c2_real, r2c2_sd, r2c2_td, 5, (-0.05, 0.6), [0.0, 0.2, 0.4, 0.6], '%.1f', pink_r2c2),
    (2, 1): (r3c2_real, r3c2_sd, r3c2_td, 7, (-0.45, 0.1), [-0.4, -0.3, -0.2, -0.1, 0.0, 0.1], '%.1f', pink_r3c2),
    (0, 2): (r1c3_real, r1c3_sd, r1c3_td, 7, (-2, 8), [-2, 0, 2, 4, 6, 8], '%d', None),
    (1, 2): (r2c3_real, r2c3_sd, r2c3_td, 5, (-0.95, 6), [0, 2, 4, 6], '%d', pink_r2c3),
    (2, 2): (r3c3_real, r3c3_sd, r3c3_td, 7, (-6, 2), [-6, -4, -2, 0, 2], '%d', pink_r3c3),
    (0, 3): (r1c4_real, r1c4_sd, r1c4_td, 7, (-0.069, 0.02), [-0.06, -0.04, -0.02, 0.0, 0.02], '%.2f', None),
    (1, 3): (r2c4_real, r2c4_sd, r2c4_td, 5, (-0.06, 0.02), [-0.06, -0.04, -0.02, 0.0, 0.02], '%.2f', pink_r2c4),
    (2, 3): (r3c4_real, r3c4_sd, r3c4_td, 7, (-0.005, 0.04), [0.0, 0.02, 0.04], '%.2f', pink_r3c4),
}
ylabels = {1: 'Yaw Rate (rad/s)', 2: 'Lateral Acceleration  (m/s$^2$)', 3: 'Side slip angle (rad)'}
ylabx = {1: -0.065, 2: -0.125, 3: -0.115}

for (r, c), (real, sd, td, tmax, ylim, yt, fmt, pink) in panels.items():
    ax = make_ax(r, c)
    hb, = ax.plot(*P(real), color=BLUE, lw=1.7, zorder=2, label='Real vehicle data')
    hk, = ax.plot(*P(sd), color=BLACK, lw=1.3, zorder=2.1, label='SD-based 2-DOF model')
    hr, = ax.plot(*P(td), color=RED, lw=1.5, zorder=2.2, label='TD-based 2-DOF model')
    ax.set_ylim(*ylim)
    ax.set_yticks(yt)
    ax.set_yticklabels([fmt % v for v in yt])
    style_x(ax, tmax, r, letters[c])
    ax.set_ylabel(ylabels[c], fontsize=FS_Y)
    ax.yaxis.set_label_coords(ylabx[c], 0.53 if c == 1 else 0.5)
    if pink is not None:
        add_pink(ax, pink, ax, P(td))
    if (r, c) == (0, 2):
        ax.legend(loc='upper left', bbox_to_anchor=(0.0, 1.03), frameon=False, fontsize=FS_LEG,
                  handlelength=1.6, handletextpad=0.3, labelspacing=0.05, borderpad=0.3)

fig.savefig('out.png', dpi=100)
